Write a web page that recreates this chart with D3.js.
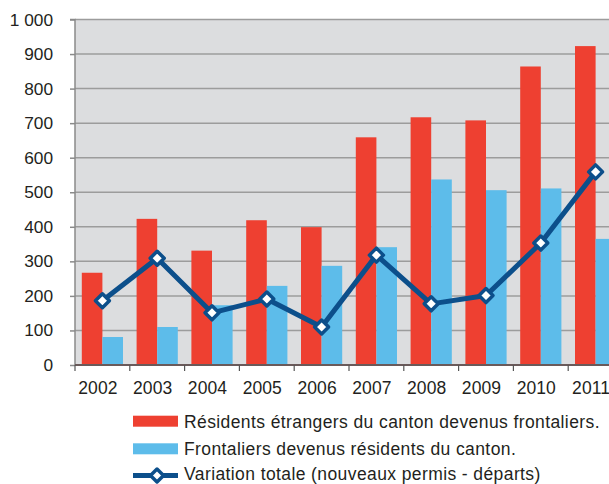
<!DOCTYPE html>
<html><head><meta charset="utf-8">
<script src="https://cdn.jsdelivr.net/npm/d3@7"></script>
<style>
html,body{margin:0;padding:0;background:#fff;overflow:hidden;}
svg{display:block;font-family:"Liberation Sans",Arial,sans-serif;}
</style></head>
<body>
<svg id="chart" width="609" height="484"></svg>
<script>
const years = ["2002","2003","2004","2005","2006","2007","2008","2009","2010","2011"];
const residentsToFrontaliers = [267, 423, 331, 419, 399, 659, 717, 708, 864, 923];
const frontaliersToResidents = [81, 110, 173, 229, 287, 341, 537, 506, 511, 365];
const variationTotale = [186, 309, 151, 191, 110, 318, 177, 201, 353, 559];
const yTicks = [0,100,200,300,400,500,600,700,800,900,1000];
const seriesLabels = [
  "Résidents étrangers du canton devenus frontaliers.",
  "Frontaliers devenus résidents du canton.",
  "Variation totale (nouveaux permis - départs)"
];
const colors = {red:"#EE4031", blue:"#5DBCEA", line:"#0C4F8B", bg:"#DCDDDF", grid:"#9C9C9C", text:"#231F20"};
const FONT = '"Liberation Sans", Arial, Helvetica, sans-serif';

const svg = d3.select("#chart");
const pLeft = 75, pRight = 623, pTop = 19.5, pBottom = 365;

const x = d3.scaleBand().domain(years).range([pLeft, pRight]).paddingInner(0).paddingOuter(0);
const x1 = d3.scaleBand().domain(["red","blue"]).range([0, x.bandwidth()]).paddingInner(0).paddingOuter(0.33);
const y = d3.scaleLinear().domain([0, 1000]).range([pBottom, pTop]);

// background
svg.append("rect").attr("x", pLeft).attr("y", pTop).attr("width", pRight-pLeft).attr("height", pBottom-pTop).attr("fill", colors.bg);

// grid
svg.append("g").selectAll("line").data(yTicks.filter(d=>d>0)).join("line")
  .attr("x1", pLeft).attr("x2", pRight).attr("y1", d=>y(d)).attr("y2", d=>y(d))
  .attr("stroke", colors.grid).attr("stroke-width", 1.5);

// bars
const bars = svg.append("g");
bars.selectAll(".r").data(years).join("rect").attr("class","r")
  .attr("x", d=>x(d)+x1("red")).attr("width", x1.bandwidth())
  .attr("y", (d,i)=>y(residentsToFrontaliers[i])).attr("height", (d,i)=>y(0)-y(residentsToFrontaliers[i]))
  .attr("fill", colors.red);
bars.selectAll(".b").data(years).join("rect").attr("class","b")
  .attr("x", d=>x(d)+x1("blue")).attr("width", x1.bandwidth())
  .attr("y", (d,i)=>y(frontaliersToResidents[i])).attr("height", (d,i)=>y(0)-y(frontaliersToResidents[i]))
  .attr("fill", colors.blue);

// y axis
const yAxis = d3.axisLeft(y).tickValues(yTicks).tickSize(5).tickPadding(17)
  .tickFormat(d => d >= 1000 ? d3.format(",")(d).replace(",", " ") : String(d));
const gy = svg.append("g").attr("transform", `translate(${pLeft},0)`).call(yAxis).attr("font-family", FONT);
gy.select(".domain").attr("stroke", "#8a8a8a").attr("stroke-width", 1.5).attr("d", `M-5,${pTop}H0V${pBottom}`);
gy.selectAll(".tick line").attr("stroke", "#8a8a8a").attr("stroke-width", 1.5);
gy.selectAll("text").attr("fill", colors.text).style("font-size", "17.3px");

// x axis
const gx = svg.append("g").attr("transform", `translate(0,${pBottom})`);
gx.append("line").attr("x1", pLeft).attr("x2", pRight).attr("y1", 0).attr("y2", 0).attr("stroke", "#6a5a5a").attr("stroke-width", 2);
gx.selectAll(".tk").data(years.concat(["end"])).join("line").attr("class","tk")
  .attr("x1", d=> d==="end" ? pRight : x(d)).attr("x2", d=> d==="end" ? pRight : x(d))
  .attr("y1", 0).attr("y2", 6).attr("stroke", "#555").attr("stroke-width", 1.2);
gx.selectAll(".lbl").data(years).join("text").attr("class","lbl")
  .attr("x", d=>x(d)+x.bandwidth()/2 - 4.5).attr("y", 29)
  .attr("text-anchor", "middle").attr("fill", colors.text)
  .style("font-size", "17.5px").style("letter-spacing", "0.1px").text(d=>d);

// line
const cx = d => x(d) + x.bandwidth()/2;
const lineGen = d3.line().x(d=>cx(d[0])).y(d=>y(d[1]));
const pts = years.map((d,i)=>[d, variationTotale[i]]);
svg.append("path").datum(pts).attr("d", lineGen).attr("fill","none")
  .attr("stroke", colors.line).attr("stroke-width", 5).attr("stroke-linejoin","round");
const diamond = (s) => `M0,${-s}L${s},0L0,${s}L${-s},0Z`;
svg.append("g").selectAll("path").data(pts).join("path")
  .attr("transform", d=>`translate(${cx(d[0])},${y(d[1])})`)
  .attr("d", diamond(7)).attr("fill", "#fff").attr("stroke", colors.line).attr("stroke-width", 3.5).attr("stroke-linejoin","round");

// legend
const lg = svg.append("g");
lg.append("rect").attr("x", 133).attr("y", 415.7).attr("width", 45).attr("height", 11).attr("fill", colors.red);
lg.append("rect").attr("x", 133).attr("y", 443.3).attr("width", 45).attr("height", 11).attr("fill", colors.blue);
lg.append("line").attr("x1", 133).attr("x2", 178).attr("y1", 475.5).attr("y2", 475.5).attr("stroke", colors.line).attr("stroke-width", 5);
lg.append("path").attr("transform","translate(157,475.5)").attr("d", diamond(6.5)).attr("fill","#fff").attr("stroke", colors.line).attr("stroke-width", 3.5).attr("stroke-linejoin","round");
lg.selectAll("text").data(seriesLabels).join("text")
  .attr("x", 184).attr("y", (d,i)=> i < 2 ? 428 + i*27 : 480)
  .attr("fill", colors.text).style("font-size", "17.5px").style("letter-spacing", "0.4px").text(d=>d);
</script>
</body></html>
